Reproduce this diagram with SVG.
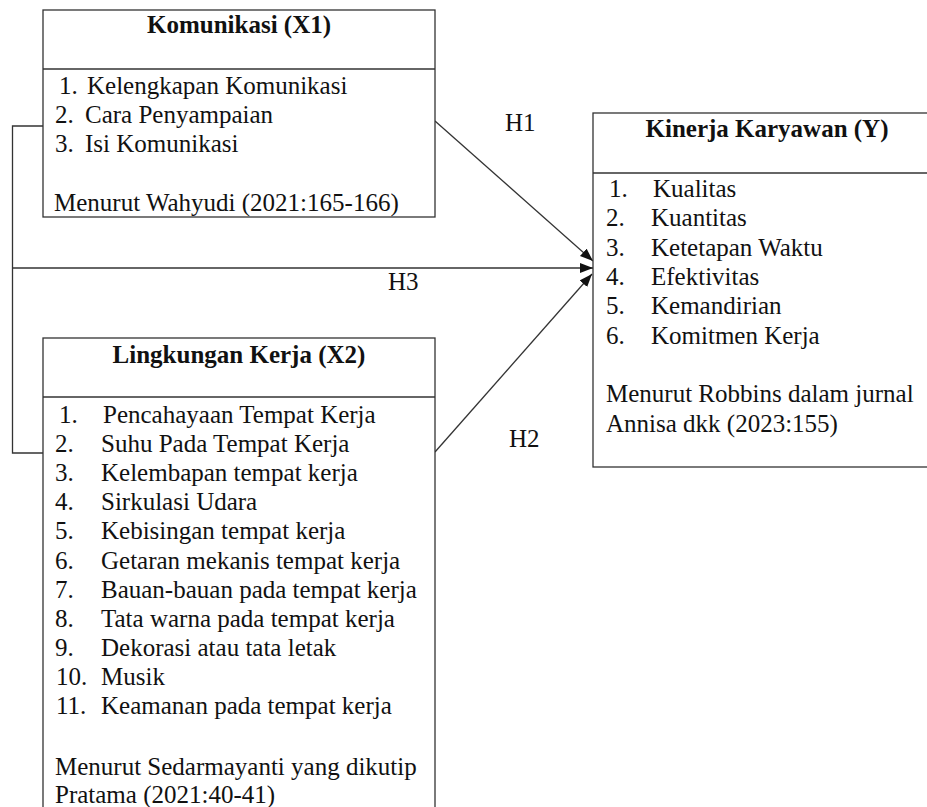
<svg xmlns="http://www.w3.org/2000/svg" width="927" height="807" viewBox="0 0 927 807">
<defs>
<style>
.box{fill:#fff;stroke:#333;stroke-width:1.3}
.div{stroke:#333;stroke-width:1.3}
.t{font-weight:bold;text-anchor:middle}
.c{fill:none;stroke:#333;stroke-width:1.3}
</style>
<marker id="ah" markerUnits="userSpaceOnUse" markerWidth="14" markerHeight="12" refX="13" refY="5" orient="auto">
<path d="M0,0 L13,5 L0,10 Z" fill="#111"/>
</marker>
</defs>
<rect width="927" height="807" fill="#fff"/>
<g font-family="'Liberation Serif', 'Times New Roman', Times, serif" font-size="25" fill="#111">
<g id="connectors">
<polyline class="c" points="43,126 12.5,126 12.5,453 43,453"/>
<line class="c" x1="12.5" y1="268" x2="593" y2="268" marker-end="url(#ah)"/>
<line class="c" x1="435" y1="121" x2="593" y2="261" marker-end="url(#ah)"/>
<line class="c" x1="435" y1="452" x2="592" y2="274" marker-end="url(#ah)"/>
<text x="505" y="131">H1</text>
<text x="388" y="290">H3</text>
<text x="509" y="447">H2</text>
</g>
<g id="x1">
<rect class="box" x="43" y="10" width="392" height="207"/>
<line class="div" x1="43" y1="69" x2="435" y2="69"/>
<text class="t" x="239" y="33">Komunikasi (X1)</text>
<text x="59" y="94">1.</text><text x="87" y="94">Kelengkapan Komunikasi</text>
<text x="55" y="123">2.</text><text x="85" y="123">Cara Penyampaian</text>
<text x="55" y="152">3.</text><text x="85" y="152">Isi Komunikasi</text>
<text x="54" y="211">Menurut Wahyudi (2021:165-166)</text>
</g>
<g id="x2">
<rect class="box" x="43" y="338" width="392" height="500"/>
<line class="div" x1="43" y1="397" x2="435" y2="397"/>
<text class="t" x="239" y="363">Lingkungan Kerja (X2)</text>
<text x="59" y="423">1.</text><text x="103" y="423">Pencahayaan Tempat Kerja</text>
<text x="55" y="452">2.</text><text x="101" y="452">Suhu Pada Tempat Kerja</text>
<text x="55" y="481">3.</text><text x="101" y="481">Kelembapan tempat kerja</text>
<text x="55" y="510">4.</text><text x="101" y="510">Sirkulasi Udara</text>
<text x="55" y="539">5.</text><text x="101" y="539">Kebisingan tempat kerja</text>
<text x="55" y="569">6.</text><text x="101" y="569">Getaran mekanis tempat kerja</text>
<text x="55" y="598">7.</text><text x="101" y="598">Bauan-bauan pada tempat kerja</text>
<text x="55" y="627">8.</text><text x="101" y="627">Tata warna pada tempat kerja</text>
<text x="55" y="656">9.</text><text x="101" y="656">Dekorasi atau tata letak</text>
<text x="56" y="685">10.</text><text x="101" y="685">Musik</text>
<text x="56" y="714">11.</text><text x="101" y="714">Keamanan pada tempat kerja</text>
<text x="55" y="775">Menurut Sedarmayanti yang dikutip</text>
<text x="55" y="803">Pratama (2021:40-41)</text>
</g>
<g id="y">
<rect class="box" x="593" y="113" width="360" height="354"/>
<line class="div" x1="593" y1="173" x2="953" y2="173"/>
<text class="t" x="767" y="137">Kinerja Karyawan (Y)</text>
<text x="609" y="197">1.</text><text x="653" y="197">Kualitas</text>
<text x="606" y="226">2.</text><text x="651" y="226">Kuantitas</text>
<text x="606" y="256">3.</text><text x="651" y="256">Ketetapan Waktu</text>
<text x="606" y="285">4.</text><text x="651" y="285">Efektivitas</text>
<text x="606" y="314">5.</text><text x="651" y="314">Kemandirian</text>
<text x="606" y="344">6.</text><text x="651" y="344">Komitmen Kerja</text>
<text x="606" y="402">Menurut Robbins dalam jurnal</text>
<text x="606" y="432">Annisa dkk (2023:155)</text>
</g>
</g>
</svg>
